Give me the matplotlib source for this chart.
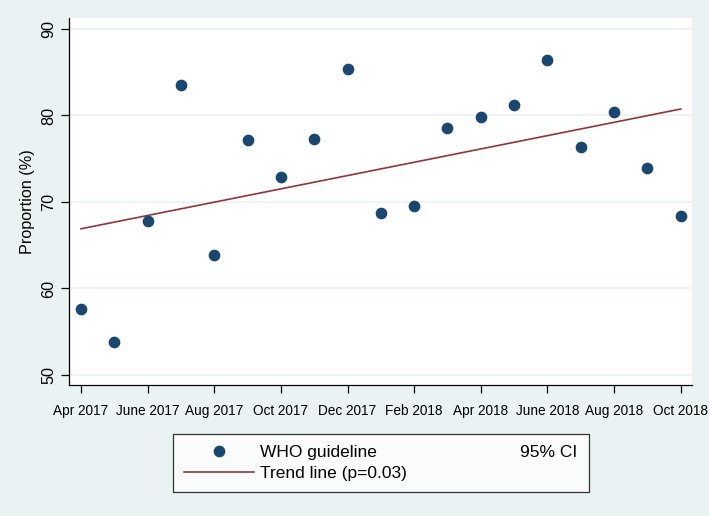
import numpy as np
import matplotlib
matplotlib.use("Agg")
import matplotlib.pyplot as plt
from matplotlib.lines import Line2D

plt.rcParams['font.family'] = ['Liberation Sans', 'DejaVu Sans']

months = list(range(19))
proportion = [57.6, 53.85, 67.8, 83.5, 63.9, 77.2, 72.9, 77.3, 85.4, 68.7,
              69.5, 78.6, 79.8, 81.2, 86.4, 76.3, 80.4, 73.9, 68.4]
tick_pos = [0, 2, 4, 6, 8, 10, 12, 14, 16, 18]
tick_labels = ['Apr 2017', 'June 2017', 'Aug 2017', 'Oct 2017', 'Dec 2017',
               'Feb 2018', 'Apr 2018', 'June 2018', 'Aug 2018', 'Oct 2018']
y_ticks = [50, 60, 70, 80, 90]

bg = '#eaf2f3'
navy = '#1a476f'
maroon = '#90353b'

# linear trend over months
slope, intercept = np.polyfit(months, proportion, 1)
trend = [intercept + slope * m for m in months]

fig = plt.figure(figsize=(7.09, 5.16), dpi=100, facecolor=bg)
ax = fig.add_axes([69 / 709, 1 - 385 / 516, 623 / 709, 367 / 516])
ax.set_facecolor('white')

ax.plot(months, proportion, 'o', color=navy, markersize=7.4, zorder=3)
ax.plot(months, trend, '-', color=maroon, linewidth=1.2, zorder=2)

ax.set_xlim(-0.36, 18.34)
ax.set_ylim(48.84, 91.27)
ax.set_xticks(tick_pos)
ax.set_xticklabels(tick_labels, fontsize=9.8)
ax.set_yticks(y_ticks)
ax.set_yticklabels([str(v) for v in y_ticks], fontsize=11.7, rotation=90, va='center')
ax.set_ylabel('Proportion (%)', fontsize=11.7, labelpad=5)
ax.grid(axis='y', color=bg, linewidth=1.2)
ax.set_axisbelow(True)

for s in ['top', 'right']:
    ax.spines[s].set_visible(False)
for s in ['left', 'bottom']:
    ax.spines[s].set_color('black')
    ax.spines[s].set_linewidth(0.9)
ax.tick_params(axis='both', direction='out', length=6, width=0.9, colors='black')
ax.tick_params(axis='x', pad=8)
ax.tick_params(axis='y', pad=3)

handles = [
    Line2D([], [], marker='o', linestyle='none', color=navy, markersize=7.4),
    Line2D([], [], color=maroon, linewidth=1.2),
    Line2D([], [], linestyle='none'),
]
labels = ['WHO guideline', 'Trend line (p=0.03)', '95% CI']
leg = fig.legend(handles, labels, loc='lower left', ncol=2, mode='expand',
                 bbox_to_anchor=(173 / 709, 1 - 492 / 516, 416 / 709, 58 / 516),
                 fontsize=12.5, frameon=True, fancybox=False, handlelength=4,
                 handletextpad=0.35, labelspacing=0.3, borderpad=0.65,
                 borderaxespad=0)
leg.get_frame().set_edgecolor('black')
leg.get_frame().set_linewidth(0.9)
leg.get_frame().set_facecolor('white')

fig.savefig('out.png', dpi=100, facecolor=bg)
